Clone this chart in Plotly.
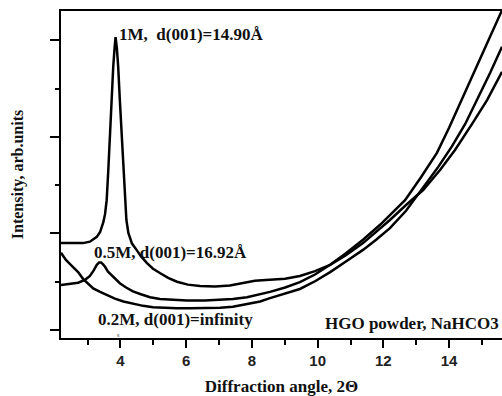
import plotly.graph_objects as go

# Diffraction angle (2θ) and intensity (arb. units)
x_1M = [2.19, 2.52, 2.86, 3.07, 3.28, 3.38, 3.48, 3.53, 3.58, 3.63, 3.68, 3.73, 3.78, 3.82,
        3.85, 3.89, 3.93, 3.98, 4.04, 4.09, 4.14, 4.18, 4.24, 4.29, 4.35, 4.49, 4.62, 4.80,
        4.99, 5.20, 5.45, 5.72, 6.05, 6.42, 6.88, 7.33, 7.64, 7.88, 8.09, 8.31, 8.55, 9.01,
        9.46, 9.92, 10.38, 10.86, 11.38, 11.78, 12.20, 12.69, 13.21, 13.73, 14.18, 14.70,
        15.16, 15.61]
y_1M = [1.80, 1.80, 1.80, 1.83, 1.93, 2.03, 2.24, 2.40, 2.69, 3.32, 4.08, 4.77, 5.46, 5.84,
        6.07, 5.84, 5.46, 4.77, 4.08, 3.32, 2.69, 2.28, 2.01, 1.89, 1.79, 1.66, 1.53, 1.39,
        1.27, 1.18, 1.08, 1.00, 0.94, 0.91, 0.90, 0.92, 0.96, 1.00, 1.02, 1.03, 1.035, 1.06,
        1.12, 1.22, 1.35, 1.55, 1.80, 2.03, 2.28, 2.59, 2.90, 3.32, 3.73, 4.27, 4.77, 5.35]

x_05M = [2.19, 2.46, 2.71, 2.92, 3.07, 3.19, 3.28, 3.35, 3.41, 3.47, 3.53, 3.62, 3.73, 3.86,
         3.98, 4.17, 4.38, 4.62, 4.90, 5.20, 5.60, 6.02, 6.57, 7.03, 7.42, 7.85, 8.25, 8.55,
         9.01, 9.46, 9.92, 10.38, 10.86, 11.38, 11.90, 12.26, 12.66, 13.15, 13.63, 14.00,
         14.33, 14.64, 14.94, 15.28, 15.60]
y_05M = [0.93, 0.95, 0.98, 1.04, 1.12, 1.24, 1.35, 1.40, 1.40, 1.36, 1.31, 1.21, 1.13, 1.04,
         0.97, 0.88, 0.80, 0.74, 0.68, 0.64, 0.62, 0.61, 0.61, 0.62, 0.64, 0.68, 0.74, 0.79,
         0.88, 0.99, 1.15, 1.35, 1.59, 1.87, 2.18, 2.42, 2.69, 3.17, 3.67, 4.19,
         4.70, 5.16, 5.64, 6.13, 6.61]

x_02M = [2.19, 2.34, 2.55, 2.71, 2.86, 3.01, 3.17, 3.38, 3.58, 3.83, 4.09, 4.38, 4.69, 4.99,
         5.30, 5.72, 6.12, 6.57, 7.03, 7.42, 7.85, 8.25, 8.55, 9.01, 9.46, 9.92, 10.38, 10.86,
         11.38, 11.78, 12.20, 12.69, 13.21, 13.67, 14.09, 14.49, 14.85, 15.25, 15.61]
y_02M = [1.60, 1.45, 1.31, 1.20, 1.06, 0.96, 0.86, 0.79, 0.73, 0.65, 0.59, 0.54, 0.50, 0.47,
         0.46, 0.45, 0.45, 0.45, 0.46, 0.48, 0.54, 0.59, 0.66, 0.75, 0.85, 1.01, 1.20, 1.42,
         1.66, 1.87, 2.11, 2.47, 2.94, 3.38, 3.81, 4.27, 4.77, 5.33, 5.87]

series = [("1M", x_1M, y_1M), ("0.5M", x_05M, y_05M), ("0.2M", x_02M, y_02M)]

labels = ["1M,  d(001)=14.90Å", "0.5M, d(001)=16.92Å", "0.2M, d(001)=infinity",
          "HGO powder, NaHCO3", "s"]

x_title = "Diffraction angle, 2Θ"
y_title = "Intensity, arb.units"

serif = "Liberation Serif, Times New Roman, serif"
sans = "Liberation Sans, Arial, sans-serif"

fig = go.Figure()
for name, xs, ys in series:
    fig.add_trace(go.Scatter(x=xs, y=ys, mode="lines", name=name,
                             line=dict(color="black", width=2.5),
                             showlegend=False))

ann_style = dict(font=dict(family=serif, size=17, color="#111", weight="bold"),
                 showarrow=False, xref="x", yref="y")
fig.add_annotation(text=labels[0], x=3.89, y=6.13, xanchor="left", yanchor="middle", **ann_style)
fig.add_annotation(text=labels[1], x=3.14, y=1.60, xanchor="left", yanchor="middle", **ann_style)
fig.add_annotation(text=labels[2], x=3.26, y=0.21, xanchor="left", yanchor="middle", **ann_style)
fig.add_annotation(text=labels[3], x=15.57, y=0.14, xanchor="right", yanchor="middle", **ann_style)
fig.add_annotation(text=labels[4], x=3.93, y=-0.10, xanchor="center", yanchor="middle",
                   font=dict(family=serif, size=6, color="#333"), showarrow=False,
                   xref="x", yref="y")

fig.update_layout(
    width=502, height=396,
    margin=dict(l=61, r=0, t=11, b=58),
    paper_bgcolor="white", plot_bgcolor="white",
    xaxis=dict(range=[2.19, 15.61], showline=True, linewidth=2, linecolor="black",
               mirror=True, showgrid=False, zeroline=False,
               ticks="outside", ticklen=8, tickwidth=2, tickcolor="black",
               tick0=0, dtick=2,
               minor=dict(ticks="outside", ticklen=5, tickwidth=2, tickcolor="black", dtick=1,
                          showgrid=False),
               tickfont=dict(family=sans, size=15, color="#222", weight="bold"),
               title=dict(text=x_title, font=dict(family=serif, size=17, color="#111",
                                                  weight="bold"), standoff=13)),
    yaxis=dict(range=[-0.166, 6.61], showline=True, linewidth=2, linecolor="black",
               mirror=False, showgrid=False, zeroline=False, showticklabels=False,
               ticks="outside", ticklen=9, tickwidth=2, tickcolor="black",
               tick0=0, dtick=2,
               minor=dict(ticks="outside", ticklen=4, tickwidth=2, tickcolor="black", dtick=1,
                          showgrid=False),
               title=dict(text=y_title, font=dict(family=serif, size=16, color="#111",
                                                  weight="bold"), standoff=22)),
)

fig.write_html("out.html")
